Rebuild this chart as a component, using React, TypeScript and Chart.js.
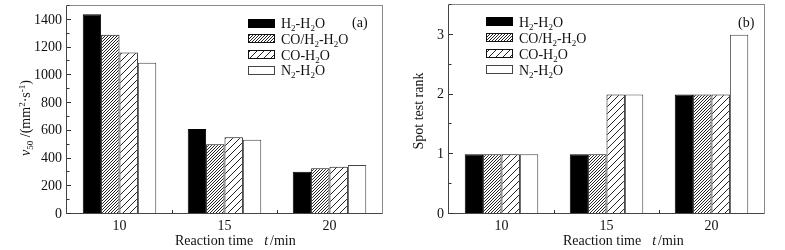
import React, { useEffect, useRef } from 'react';
import { Chart, registerables } from 'chart.js';

Chart.register(...registerables);

// ---------------- data ----------------
const categories = ['10', '15', '20'];
const seriesNames = ['H2-H2O', 'CO/H2-H2O', 'CO-H2O', 'N2-H2O'];

const v50H2 = [1440, 613, 305];
const v50COH2 = [1292, 503, 330];
const v50CO = [1165, 553, 340];
const v50N2 = [1090, 535, 353];

const rankH2 = [1, 1, 2];
const rankCOH2 = [1, 1, 2];
const rankCO = [1, 2, 2];
const rankN2 = [1, 2, 3];

const v50Ticks = [0, 200, 400, 600, 800, 1000, 1200, 1400];
const rankTicks = [0, 1, 2, 3];

// ---------------- helpers ----------------
const FONT = '"Liberation Serif", "Times New Roman", serif';
const FS = 14;
type Seg = { t: string; size: number; italic?: boolean; dy?: number };

function segFont(s: Seg) {
  return `${s.italic ? 'italic ' : ''}${s.size}px ${FONT}`;
}
function measure(ctx: CanvasRenderingContext2D, segs: Seg[]) {
  let w = 0;
  for (const s of segs) {
    ctx.font = segFont(s);
    w += ctx.measureText(s.t).width;
  }
  return w;
}
function drawSegs(ctx: CanvasRenderingContext2D, segs: Seg[], x: number, y: number) {
  for (const s of segs) {
    ctx.font = segFont(s);
    ctx.fillText(s.t, x, y + (s.dy || 0));
    x += ctx.measureText(s.t).width;
  }
  return x;
}
function chemSegs(name: string, size: number): Seg[] {
  const out: Seg[] = [];
  for (let i = 0; i < name.length; i++) {
    const ch = name[i];
    const sub = /[0-9]/.test(ch) && i > 0 && /[A-Za-z]/.test(name[i - 1]);
    const last = out[out.length - 1];
    const isSubLast = last && last.dy === 3;
    if (last && (sub ? isSubLast : !isSubLast)) last.t += ch;
    else out.push(sub ? { t: ch, size: size - 5, dy: 3 } : { t: ch, size });
  }
  return out;
}

function makeHatch(s: number, lw: number, color: string) {
  const c = document.createElement('canvas');
  c.width = s;
  c.height = s;
  const g = c.getContext('2d')!;
  g.fillStyle = '#ffffff';
  g.fillRect(0, 0, s, s);
  g.strokeStyle = color;
  g.lineWidth = lw;
  g.beginPath();
  g.moveTo(0, s);
  g.lineTo(s, 0);
  g.moveTo(-1, 1);
  g.lineTo(1, -1);
  g.moveTo(s - 1, s + 1);
  g.lineTo(s + 1, s - 1);
  g.stroke();
  return g.createPattern(c, 'repeat') as CanvasPattern;
}

type Deco = {
  legendX: number;
  legendY: number;
  legendGap: number;
  tag: string;
  tagX: number;
  tagY: number;
  yTitle: Seg[];
  yTitleX: number;
  yTitleY: number;
  xTitleX: number;
  minorStep: number;
  yMax: number;
};

function decoPlugin(d: Deco, fills: any[], borders: string[]) {
  return {
    id: 'deco',
    afterDraw(chart: any) {
      const ctx: CanvasRenderingContext2D = chart.ctx;
      const a = chart.chartArea;
      const ys = chart.scales.y;
      const xs = chart.scales.x;
      ctx.save();
      // frame
      ctx.lineWidth = 1;
      ctx.strokeStyle = '#8a8a8a';
      ctx.strokeRect(a.left - 0.5, a.top - 0.5, a.right - a.left + 1, a.bottom - a.top);
      ctx.strokeStyle = '#444';
      ctx.beginPath();
      ctx.moveTo(a.left - 0.5, a.top);
      ctx.lineTo(a.left - 0.5, a.bottom);
      ctx.moveTo(a.left - 0.5, a.bottom - 0.5);
      ctx.lineTo(a.right, a.bottom - 0.5);
      ctx.stroke();
      // y ticks (major + minor), inward
      ctx.strokeStyle = '#333';
      ctx.beginPath();
      for (let v = 0; v <= d.yMax + 1e-9; v += d.minorStep) {
        const y = Math.round(ys.getPixelForValue(v)) - 0.5;
        const major = ys.ticks.some((t: any) => Math.abs(t.value - v) < 1e-9);
        ctx.moveTo(a.left, y);
        ctx.lineTo(a.left + (major ? 4 : 2.5), y);
      }
      // x ticks between categories
      for (let i = 0; i < categories.length - 1; i++) {
        const x =
          Math.round((xs.getPixelForValue(i) + xs.getPixelForValue(i + 1)) / 2) + 0.5;
        ctx.moveTo(x, a.bottom);
        ctx.lineTo(x, a.bottom - 4);
      }
      ctx.stroke();

      // legend
      ctx.textBaseline = 'alphabetic';
      seriesNames.forEach((n, i) => {
        const yc = d.legendY + i * d.legendGap;
        const top = Math.round(yc - 4.5);
        ctx.fillStyle = fills[i];
        ctx.fillRect(d.legendX, top, 27, 9);
        ctx.strokeStyle = borders[i];
        ctx.strokeRect(d.legendX + 0.5, top + 0.5, 26, 8);
        ctx.fillStyle = '#111';
        drawSegs(ctx, chemSegs(n, FS), d.legendX + 33, yc + 5);
      });

      // panel tag
      ctx.fillStyle = '#111';
      ctx.font = `${FS}px ${FONT}`;
      ctx.fillText(d.tag, d.tagX, d.tagY);

      // x title
      let x = drawSegs(ctx, [{ t: 'Reaction time', size: FS }], d.xTitleX, 244.5);
      x = drawSegs(ctx, [{ t: 't', size: FS, italic: true }], x + 11, 244.5);
      drawSegs(ctx, [{ t: '/min', size: FS }], x + 2, 244.5);

      // y title (rotated)
      const w = measure(ctx, d.yTitle);
      ctx.translate(d.yTitleX, d.yTitleY);
      ctx.rotate(-Math.PI / 2);
      drawSegs(ctx, d.yTitle, -w / 2, 5);
      ctx.restore();
    },
  };
}

function buildChart(
  canvas: HTMLCanvasElement,
  series: number[][],
  ticks: number[],
  yMax: number,
  yWidth: number,
  pad: { top: number; right: number },
  deco: Deco
) {
  const dense = makeHatch(3, 1, '#222');
  const sparse = makeHatch(7, 1, '#222');
  const fills: any[] = ['#000000', dense, sparse, '#ffffff'];
  const borders = ['#000', '#111', '#111', '#444'];
  const tickFont = { family: FONT, size: FS };
  return new Chart(canvas, {
    type: 'bar',
    data: {
      labels: categories,
      datasets: seriesNames.map((n, i) => ({
        label: n,
        data: series[i],
        backgroundColor: fills[i],
        borderColor: borders[i],
        borderWidth: 1,
        categoryPercentage: 0.7,
        barPercentage: 1,
      })),
    },
    options: {
      animation: false,
      responsive: false,
      maintainAspectRatio: false,
      layout: { padding: { left: 0, top: pad.top, right: pad.right, bottom: 0 } },
      plugins: { legend: { display: false }, tooltip: { enabled: false } },
      scales: {
        x: {
          grid: { display: false, drawTicks: false },
          border: { display: false },
          ticks: { font: tickFont, color: '#111', padding: 4 },
          afterFit(s: any) {
            s.height = 36;
            s.paddingLeft = 0;
            s.paddingRight = 0;
          },
        },
        y: {
          min: 0,
          max: yMax,
          grid: { display: false, drawTicks: false },
          border: { display: false },
          ticks: {
            font: tickFont,
            color: '#111',
            padding: 5,
            callback: (v: any) => String(v),
          },
          afterBuildTicks(s: any) {
            s.ticks = ticks.map((v) => ({ value: v }));
          },
          afterFit(s: any) {
            s.width = yWidth;
            s.paddingTop = 0;
            s.paddingBottom = 0;
          },
        },
      },
    },
    plugins: [decoPlugin(deco, fills, borders)],
  } as any);
}

export default function App() {
  const leftRef = useRef<HTMLCanvasElement>(null);
  const rightRef = useRef<HTMLCanvasElement>(null);

  useEffect(() => {
    const c1 = buildChart(
      leftRef.current!,
      [v50H2, v50COH2, v50CO, v50N2],
      v50Ticks,
      1500,
      67,
      { top: 6, right: 10 },
      {
        legendX: 248,
        legendY: 23,
        legendGap: 15.8,
        tag: '(a)',
        tagX: 352,
        tagY: 27,
        yTitle: [
          { t: 'v', size: FS, italic: true },
          { t: '50', size: 9, dy: 3 },
          { t: ' /(mm', size: FS },
          { t: '2', size: 9, dy: -5 },
          { t: '·s', size: FS },
          { t: '-1', size: 9, dy: -5 },
          { t: ')', size: FS },
        ],
        yTitleX: 25,
        yTitleY: 118,
        xTitleX: 175,
        minorStep: 100,
        yMax: 1500,
      }
    );
    const c2 = buildChart(
      rightRef.current!,
      [rankH2, rankCOH2, rankCO, rankN2],
      rankTicks,
      3.5,
      57,
      { top: 5, right: 21 },
      {
        legendX: 94,
        legendY: 21.7,
        legendGap: 16,
        tag: '(b)',
        tagX: 346,
        tagY: 27,
        yTitle: [{ t: 'Spot test rank', size: FS }],
        yTitleX: 26,
        yTitleY: 111,
        xTitleX: 171,
        minorStep: 0.5,
        yMax: 3.5,
      }
    );
    return () => {
      c1.destroy();
      c2.destroy();
    };
  }, []);

  return (
    <div
      style={{
        position: 'fixed',
        left: 0,
        top: 0,
        width: 785,
        height: 250,
        background: '#fff',
      }}
    >
      <canvas
        ref={leftRef}
        width={392}
        height={250}
        style={{ position: 'absolute', left: 0, top: 0, width: 392, height: 250 }}
      />
      <canvas
        ref={rightRef}
        width={393}
        height={250}
        style={{ position: 'absolute', left: 392, top: 0, width: 393, height: 250 }}
      />
    </div>
  );
}
